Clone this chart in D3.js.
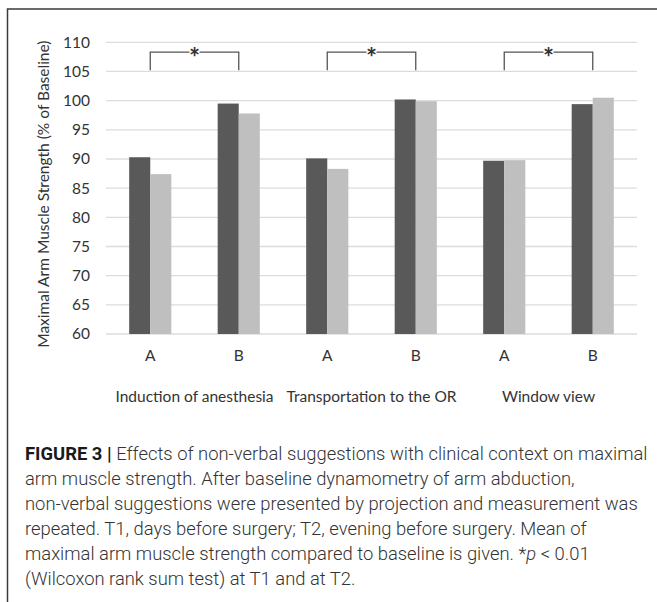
<!DOCTYPE html>
<html>
<head>
<meta charset="utf-8">
<script src="https://cdn.jsdelivr.net/npm/d3@7"></script>
<style>
  body { margin: 0; background: #fff; }
  svg { display: block; }
  .tick-label { font-family: Lato, "Open Sans", sans-serif; fill: #333; }
  .caption { font-family: Roboto, "Liberation Sans", sans-serif; fill: #333; }
</style>
</head>
<body>
<div id="chart"></div>
<script>
// values (% of baseline)
const groups = ["Induction of anesthesia", "Transportation to the OR", "Window view"];
const conditions = ["A", "B"];
const seriesNames = ["T1", "T2"];
const valuesT1 = [90.3, 99.5, 90.1, 100.2, 89.7, 99.4];
const valuesT2 = [87.4, 97.8, 88.3, 99.9, 89.8, 100.5];
const yTicks = [60, 65, 70, 75, 80, 85, 90, 95, 100, 105, 110];
const sigPairs = [[0, 1], [2, 3], [4, 5]];
const sigTop = 108.3, sigLeg = 105.2;

const captionLines = [
  "Effects of non-verbal suggestions with clinical context on maximal",
  "arm muscle strength. After baseline dynamometry of arm abduction,",
  "non-verbal suggestions were presented by projection and measurement was",
  "repeated. T1, days before surgery; T2, evening before surgery. Mean of",
  "maximal arm muscle strength compared to baseline is given. ",
  "(Wilcoxon rank sum test) at T1 and at T2."
];

const width = 657, height = 602;
const svg = d3.select("#chart").append("svg")
  .attr("width", width).attr("height", height);

// frame (top and left edges only)
svg.append("path")
  .attr("d", `M7.5,${height} V9 H${width}`)
  .attr("fill", "none").attr("stroke", "#3a3a3a").attr("stroke-width", 1.5);

const cats = d3.range(groups.length * conditions.length);
const catLabel = i => conditions[i % conditions.length];

const x0 = d3.scaleBand().domain(cats).range([106, 637]);
const x1 = d3.scaleBand().domain(seriesNames).range([0, x0.bandwidth()]).paddingOuter(1.1);
const y = d3.scaleLinear().domain([60, 110]).range([334, 42.3]);

const color = d3.scaleOrdinal(seriesNames, ["#595959", "#bfbfbf"]);

// gridlines
svg.append("g")
  .selectAll("line")
  .data(yTicks)
  .join("line")
  .attr("x1", 106).attr("x2", 637)
  .attr("y1", d => y(d)).attr("y2", d => y(d))
  .attr("stroke", "#dcdcdc").attr("stroke-width", 1.3);

// y axis labels
const yAxis = svg.append("g")
  .attr("transform", "translate(90,0)")
  .call(d3.axisLeft(y).tickValues(yTicks).tickSize(0).tickPadding(0));
yAxis.select(".domain").remove();
yAxis.selectAll("text")
  .attr("class", "tick-label")
  .style("font-size", "15.5px")
  .attr("fill", "#333");

svg.append("text")
  .attr("class", "tick-label")
  .attr("transform", `translate(44,${(y(60) + y(110)) / 2 + 6}) rotate(-90)`)
  .attr("text-anchor", "middle")
  .attr("dy", "0.35em")
  .style("font-size", "15.5px")
  .attr("fill", "#262626")
  .text("Maximal Arm Muscle Strength (% of Baseline)");

// bars
const rows = cats.map(i => ({ cat: i, vals: [valuesT1[i], valuesT2[i]] }));
svg.append("g")
  .selectAll("g")
  .data(rows)
  .join("g")
  .attr("transform", d => `translate(${x0(d.cat)},0)`)
  .selectAll("rect")
  .data(d => d.vals.map((v, j) => ({ key: seriesNames[j], v })))
  .join("rect")
  .attr("x", d => x1(d.key))
  .attr("width", x1.bandwidth())
  .attr("y", d => y(d.v))
  .attr("height", d => y(60) - y(d.v))
  .attr("fill", d => color(d.key));

// category labels A / B
svg.append("g")
  .selectAll("text")
  .data(cats)
  .join("text")
  .attr("class", "tick-label")
  .attr("x", d => x0(d) + x0.bandwidth() / 2)
  .attr("y", 356)
  .attr("dy", "0.35em")
  .attr("text-anchor", "middle")
  .style("font-size", "15.5px")
  .text(catLabel);

// group labels
svg.append("g")
  .selectAll("text")
  .data(groups)
  .join("text")
  .attr("class", "tick-label")
  .attr("x", (d, g) => (x0(g * 2) + x0(g * 2 + 1) + x0.bandwidth()) / 2)
  .attr("y", 397)
  .attr("dy", "0.35em")
  .attr("text-anchor", "middle")
  .style("font-size", "15.5px")
  .text(d => d);

// significance brackets
const mid = i => x0(i) + x0.bandwidth() / 2;
const br = svg.append("g").attr("stroke", "#555").attr("stroke-width", 1.3).attr("fill", "none");
sigPairs.forEach(([a, b]) => {
  const xa = mid(a), xb = mid(b), xc = (xa + xb) / 2;
  br.append("path").attr("d", `M${xa},${y(sigLeg)} V${y(sigTop)} H${xc - 5}`);
  br.append("path").attr("d", `M${xc + 5},${y(sigTop)} H${xb} V${y(sigLeg)}`);
  svg.append("text")
    .attr("x", xc).attr("y", y(sigTop) + 15)
    .attr("text-anchor", "middle")
    .style("font-family", "Lato, sans-serif")
    .style("font-weight", 700)
    .style("font-size", "26px")
    .style("fill", "#333")
    .text("*");
});

// caption
const cap = svg.append("g").attr("class", "caption");
const lineH = 25, cap0 = 460, capX = 25;
let fs = 18;
const t0 = cap.append("text").attr("x", capX).attr("y", cap0).style("font-size", fs + "px");
t0.append("tspan").attr("font-weight", 700).style("fill", "#1a1a1a").text("FIGURE 3 | ");
t0.append("tspan").attr("font-weight", 300).text(captionLines[0]);
const w0 = t0.node().getComputedTextLength();
fs = fs * 623 / w0;
t0.style("font-size", fs + "px");
captionLines.slice(1).forEach((line, i) => {
  const t = cap.append("text")
    .attr("x", capX).attr("y", cap0 + lineH * (i + 1))
    .attr("font-weight", 300)
    .style("font-size", fs + "px")
    .text(line);
  if (i === 3) {
    t.append("tspan").text("*");
    t.append("tspan").attr("font-style", "italic").text("p");
    t.append("tspan").text(" < 0.01");
  }
});
</script>
</body>
</html>
